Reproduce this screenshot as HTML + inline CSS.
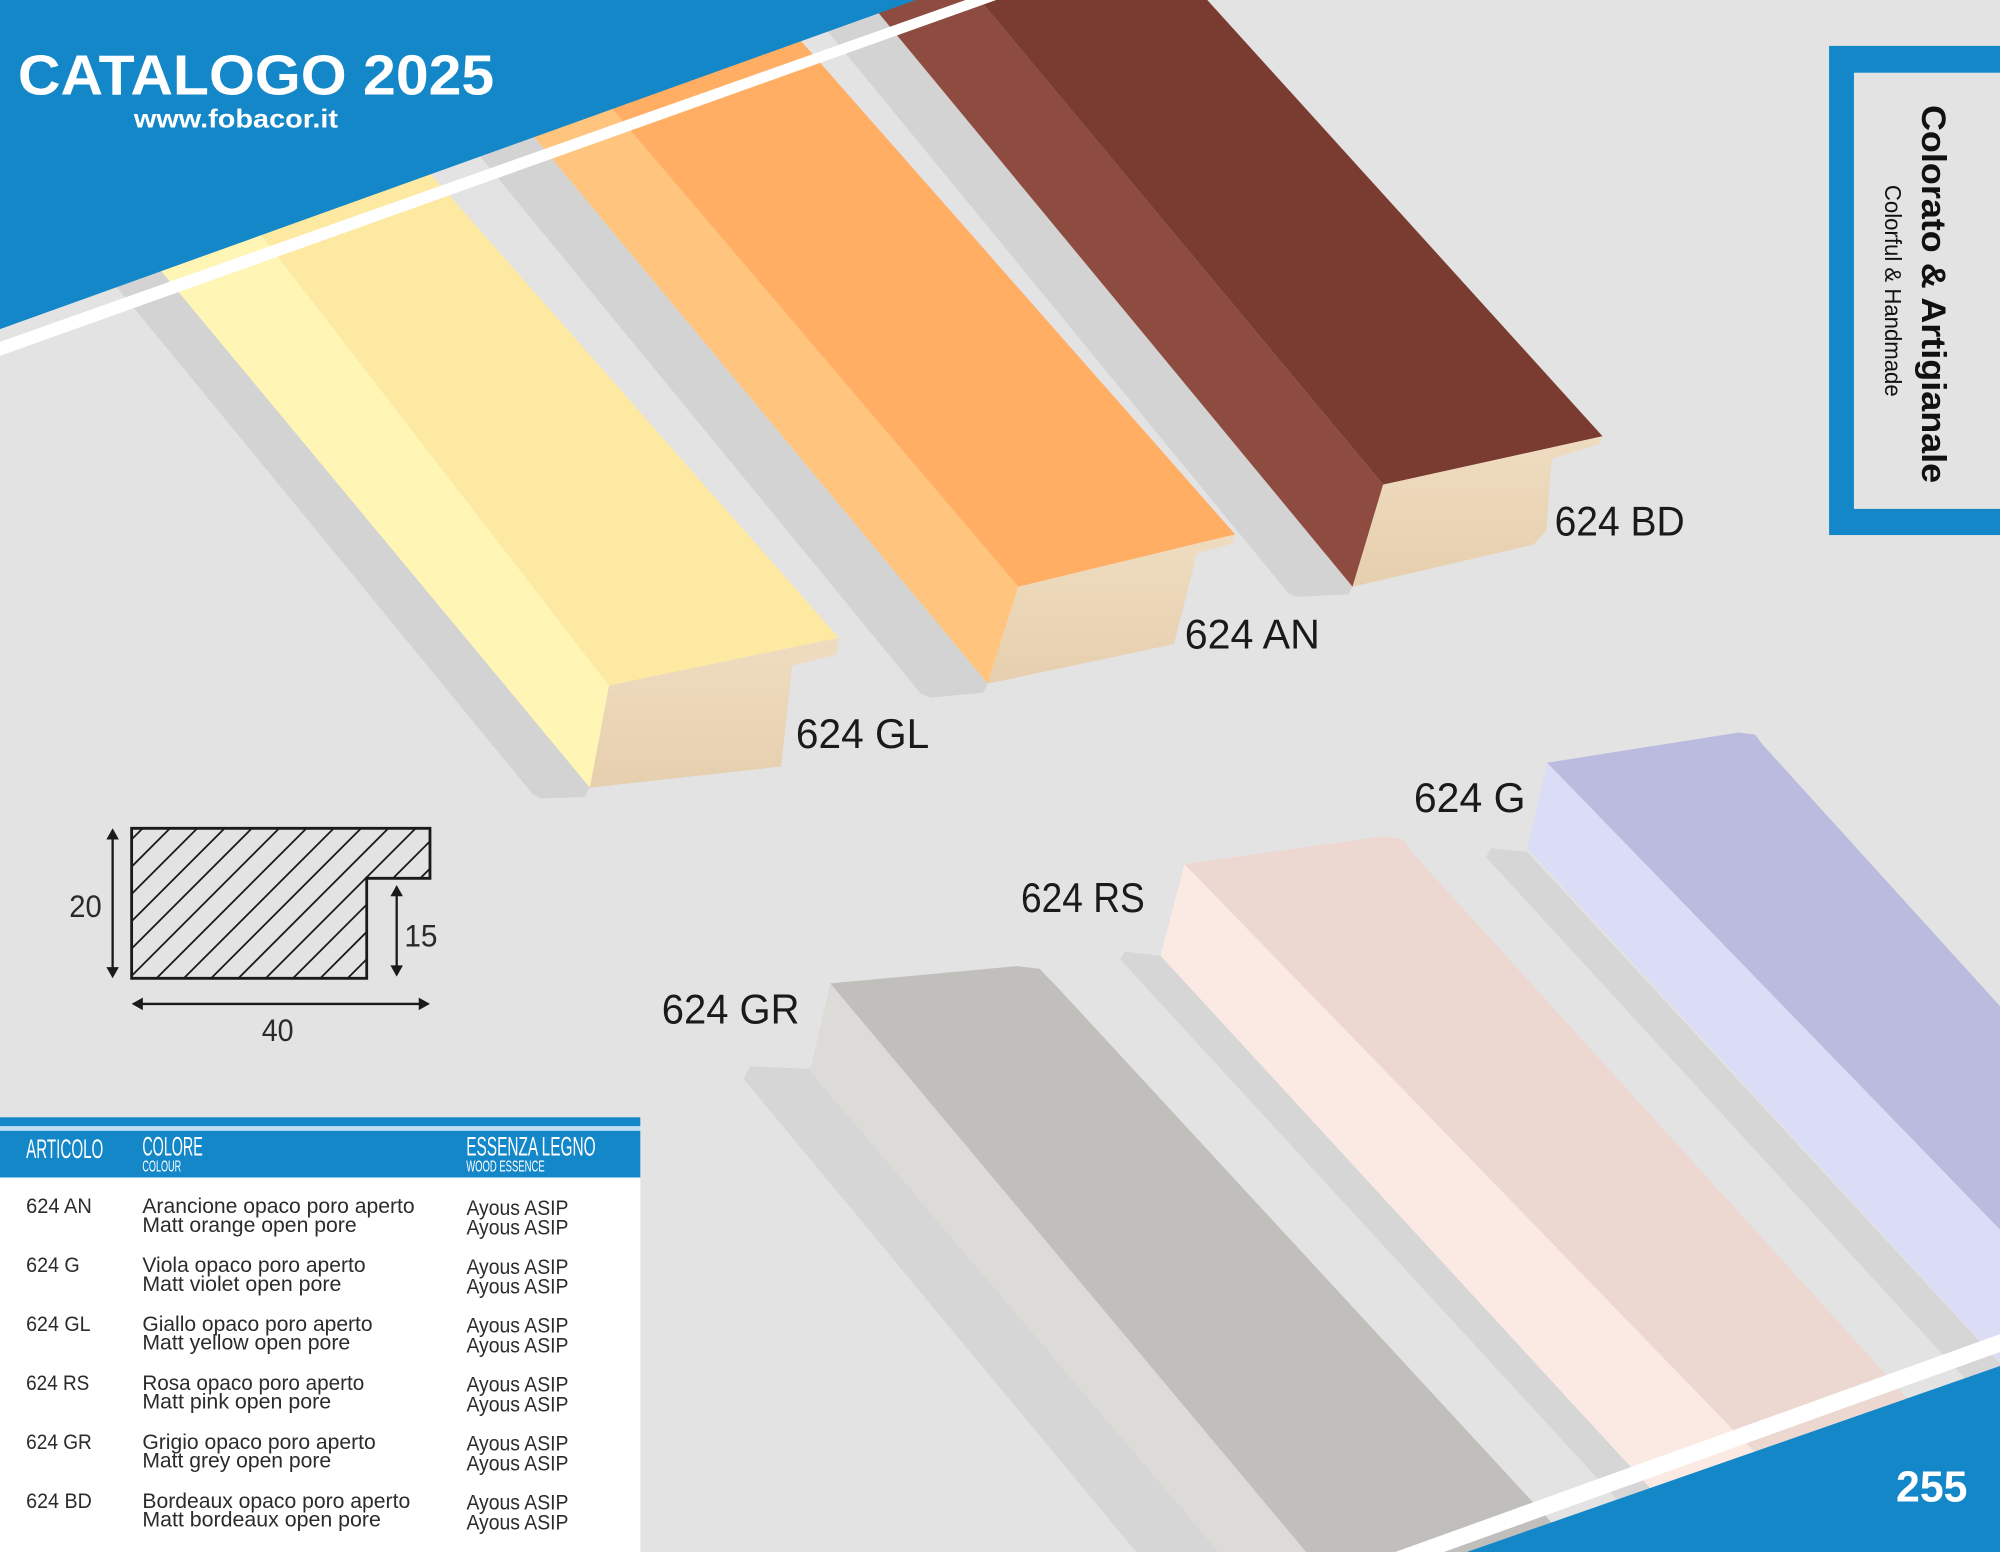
<!DOCTYPE html>
<html>
<head>
<meta charset="utf-8">
<style>
html,body{margin:0;padding:0;background:#e3e3e3;}
svg{display:block;}
</style>
</head>
<body>
<svg xmlns="http://www.w3.org/2000/svg" width="2000" height="1552" viewBox="0 0 1568 1216.8" preserveAspectRatio="none">
  <defs>
    <clipPath id="prof">
      <polygon points="103.2,649.4 337.1,649.4 337.1,688.6 287.5,688.6 287.5,767 103.2,767"/>
    </clipPath>
    <linearGradient id="wood" x1="0" y1="0" x2="0" y2="1">
      <stop offset="0" stop-color="#efdcc0"/>
      <stop offset="1" stop-color="#e6cfae"/>
    </linearGradient>
  </defs>

  <!-- background -->
  <rect x="0" y="0" width="1568" height="1216.8" fill="#e3e3e3"/>

  <!-- ===== Upper frames ===== -->
  <!-- GL (yellow) -->
  <polygon fill="#d3d3d3" points="-93,0 -50,0 462.5,617.5 458,625 424,626 417.5,622.5"/>
  <polygon fill="#fff5b5" points="-50,0 62.5,0 477.5,537.5 462.5,617.5"/>
  <polygon fill="#fde9a1" points="62.5,0 217.5,0 657.5,500 477.5,537.5"/>
  <polygon fill="url(#wood)" points="477.5,537.5 657.5,500 656,513 621,522 612.5,601 462.5,617.5"/>

  <!-- AN (orange) -->
  <polygon fill="#d3d3d3" points="276,0 329.5,0 774.4,536 771,543 730,547 722,544"/>
  <polygon fill="#ffc57e" points="329.5,0 407.4,0 798.4,460 774.4,536"/>
  <polygon fill="#ffae63" points="407.4,0 599.7,0 968.4,419 798.4,460"/>
  <polygon fill="url(#wood)" points="798.4,460 968.4,419 966.4,426 938.4,434 920.4,505 774.4,536"/>

  <!-- BD (bordeaux) -->
  <polygon fill="#d3d3d3" points="628.7,0 680.4,0 1060.4,460 1057,466 1016,468 1010,465"/>
  <polygon fill="#8e4b3f" points="680.4,0 768.2,0 1084.4,380 1060.4,460"/>
  <polygon fill="#7a3c31" points="768.2,0 946.5,0 1256.4,342 1084.4,380"/>
  <polygon fill="url(#wood)" points="1084.4,380 1256.4,342 1254.4,348 1216.4,360 1212.4,416 1202.4,427 1060.4,460"/>

  <!-- ===== Lower frames ===== -->
  <!-- GR (grey) -->
  <polygon fill="#d6d6d6" points="583,846 588,836 636,838 966.5,1230 901.7,1230"/>
  <polygon fill="#dddbd7" points="651,771 1035,1230 966.5,1230 635,840"/>
  <polygon fill="#c0bfbb" points="651,771 797,757.5 815,759.5 829,774 1250,1230 1035,1230"/>

  <!-- RS (pink) -->
  <polygon fill="#d6d6d6" points="878,752 882,746 910,749.4 1352,1230 1317.6,1230"/>
  <polygon fill="#fbeae4" points="928.6,677.4 1464.6,1230 1352,1230 909.9,749.3"/>
  <polygon fill="#ecd8d1" points="928.6,677.4 1084.9,655.6 1100,658 1106.8,668 1617,1230 1464.6,1230"/>

  <!-- G (violet) -->
  <polygon fill="#d6d6d6" points="1165,672 1169,665 1197.4,668 1717,1230 1677.5,1230"/>
  <polygon fill="#dbdcf5" points="1213,598 1826,1230 1717,1230 1197.4,665"/>
  <polygon fill="#babbdf" points="1213,598 1363,574.3 1376,576 1381.8,583.7 1968.6,1230 1826,1230"/>

  <!-- ===== Frame labels ===== -->
  <g font-family="'Liberation Sans', sans-serif" font-size="33" fill="#1a1a1a">
    <text x="1218.8" y="420" textLength="102" lengthAdjust="spacingAndGlyphs">624 BD</text>
    <text x="928.8" y="508.5" textLength="106" lengthAdjust="spacingAndGlyphs">624 AN</text>
    <text x="624" y="586.5" textLength="104.5" lengthAdjust="spacingAndGlyphs">624 GL</text>
    <text x="1108.5" y="636.5" textLength="87.5" lengthAdjust="spacingAndGlyphs">624 G</text>
    <text x="800.5" y="715" textLength="97" lengthAdjust="spacingAndGlyphs">624 RS</text>
    <text x="518.8" y="802.5" textLength="108" lengthAdjust="spacingAndGlyphs">624 GR</text>
  </g>

  <!-- ===== Top-left blue corner and stripe ===== -->
  <polygon fill="#1487c8" points="0,0 718,0 0,258"/>
  <polygon fill="#ffffff" points="0,268 757,0 781,0 0,279"/>
  <text x="14" y="74" font-family="'Liberation Sans', sans-serif" font-weight="bold" font-size="44" fill="#ffffff" textLength="373.5" lengthAdjust="spacingAndGlyphs">CATALOGO 2025</text>
  <text x="105" y="100" font-family="'Liberation Sans', sans-serif" font-weight="bold" font-size="20.5" fill="#ffffff" textLength="160" lengthAdjust="spacingAndGlyphs">www.fobacor.it</text>

  <!-- ===== Bottom-right blue corner and stripe ===== -->
  <polygon fill="#ffffff" points="1094,1216.8 1568,1046 1568,1060 1132,1216.8"/>
  <polygon fill="#1487c8" points="1150,1216.8 1568,1071 1568,1216.8"/>
  <text x="1486.5" y="1177.3" font-family="'Liberation Sans Narrow', 'Liberation Sans', sans-serif" font-weight="bold" font-size="34" fill="#ffffff" textLength="56" lengthAdjust="spacingAndGlyphs">255</text>

  <!-- ===== Right box ===== -->
  <rect x="1434" y="36" width="134" height="383.5" fill="#1487c8"/>
  <rect x="1453.5" y="57" width="114.5" height="342" fill="#e3e3e3"/>
  <text x="1507" y="82.3" transform="rotate(90 1507 82.3)" font-family="'Liberation Sans Narrow', 'Liberation Sans', sans-serif" font-weight="bold" font-size="27" fill="#111111" textLength="296.5" lengthAdjust="spacingAndGlyphs">Colorato &amp; Artigianale</text>
  <text x="1478" y="145" transform="rotate(90 1478 145)" font-family="'Liberation Sans Narrow', 'Liberation Sans', sans-serif" font-size="18" fill="#111111" textLength="166" lengthAdjust="spacingAndGlyphs">Colorful &amp; Handmade</text>

  <!-- ===== Profile diagram ===== -->
  <g clip-path="url(#prof)" stroke="#1a1a1a" stroke-width="1.4">
    <line x1="-18.7" y1="780" x2="121.3" y2="640"/>
    <line x1="2.7" y1="780" x2="142.7" y2="640"/>
    <line x1="24.1" y1="780" x2="164.1" y2="640"/>
    <line x1="45.5" y1="780" x2="185.5" y2="640"/>
    <line x1="66.9" y1="780" x2="206.9" y2="640"/>
    <line x1="88.3" y1="780" x2="228.3" y2="640"/>
    <line x1="109.7" y1="780" x2="249.7" y2="640"/>
    <line x1="131.1" y1="780" x2="271.1" y2="640"/>
    <line x1="152.5" y1="780" x2="292.5" y2="640"/>
    <line x1="173.9" y1="780" x2="313.9" y2="640"/>
    <line x1="195.3" y1="780" x2="335.3" y2="640"/>
    <line x1="216.7" y1="780" x2="356.7" y2="640"/>
    <line x1="238.1" y1="780" x2="378.1" y2="640"/>
    <line x1="259.5" y1="780" x2="399.5" y2="640"/>
    <line x1="280.9" y1="780" x2="420.9" y2="640"/>
  </g>
  <polygon points="103.2,649.4 337.1,649.4 337.1,688.6 287.5,688.6 287.5,767 103.2,767" fill="none" stroke="#1a1a1a" stroke-width="2.2"/>
  <!-- arrows -->
  <g stroke="#1a1a1a" stroke-width="1.8" fill="none">
    <line x1="88.3" y1="656" x2="88.3" y2="760"/>
    <line x1="311" y1="700" x2="311" y2="759"/>
    <line x1="110" y1="787.1" x2="330" y2="787.1"/>
  </g>
  <g fill="#1a1a1a">
    <polygon points="88.3,649.4 83.4,658.2 93.2,658.2"/>
    <polygon points="88.3,767 83.4,758.2 93.2,758.2"/>
    <polygon points="311,693.9 306.1,702.7 315.9,702.7"/>
    <polygon points="311,765.7 306.1,756.9 315.9,756.9"/>
    <polygon points="103.2,787.1 112,782.2 112,792"/>
    <polygon points="337.1,787.1 328.3,782.2 328.3,792"/>
  </g>
  <g font-family="'Liberation Sans', sans-serif" font-size="25" fill="#2a2a2a">
    <text x="54.3" y="719" textLength="25.4" lengthAdjust="spacingAndGlyphs">20</text>
    <text x="317" y="742" textLength="26" lengthAdjust="spacingAndGlyphs">15</text>
    <text x="205.2" y="816" textLength="25" lengthAdjust="spacingAndGlyphs">40</text>
  </g>

  <!-- ===== Table ===== -->
  <rect x="0" y="876" width="502" height="7" fill="#1487c8"/>
  <rect x="0" y="883" width="502" height="3.6" fill="#bfe0f4"/>
  <rect x="0" y="886.6" width="502" height="36.6" fill="#1487c8"/>
  <rect x="0" y="923.2" width="502" height="293.6" fill="#ffffff"/>

  <g font-family="'Liberation Sans Narrow', 'Liberation Sans', sans-serif" fill="#ffffff">
    <text x="20.5" y="907.8" font-size="21" textLength="60.5" lengthAdjust="spacingAndGlyphs">ARTICOLO</text>
    <text x="111.6" y="906" font-size="21" textLength="47.4" lengthAdjust="spacingAndGlyphs">COLORE</text>
    <text x="365.5" y="906" font-size="21" textLength="101.5" lengthAdjust="spacingAndGlyphs">ESSENZA LEGNO</text>
    <text x="111.6" y="918.6" font-size="12" textLength="30.4" lengthAdjust="spacingAndGlyphs">COLOUR</text>
    <text x="365.5" y="918.6" font-size="12" textLength="61.5" lengthAdjust="spacingAndGlyphs">WOOD ESSENCE</text>
  </g>

  <g font-family="'Liberation Sans', sans-serif" font-size="16.3" fill="#2b2b2b">
    <!-- row 1 -->
    <text x="20.5" y="951.2" textLength="51.5" lengthAdjust="spacingAndGlyphs">624 AN</text>
    <text x="111.6" y="951.2" textLength="213.5" lengthAdjust="spacingAndGlyphs">Arancione opaco poro aperto</text>
    <text x="111.6" y="965.8" textLength="168" lengthAdjust="spacingAndGlyphs">Matt orange open pore</text>
    <text x="365.7" y="952.5" textLength="80" lengthAdjust="spacingAndGlyphs">Ayous ASIP</text>
    <text x="365.7" y="968" textLength="80" lengthAdjust="spacingAndGlyphs">Ayous ASIP</text>
    <!-- row 2 -->
    <text x="20.5" y="997.4" textLength="42" lengthAdjust="spacingAndGlyphs">624 G</text>
    <text x="111.6" y="997.4" textLength="175" lengthAdjust="spacingAndGlyphs">Viola opaco poro aperto</text>
    <text x="111.6" y="1012" textLength="156" lengthAdjust="spacingAndGlyphs">Matt violet open pore</text>
    <text x="365.7" y="998.7" textLength="80" lengthAdjust="spacingAndGlyphs">Ayous ASIP</text>
    <text x="365.7" y="1014.2" textLength="80" lengthAdjust="spacingAndGlyphs">Ayous ASIP</text>
    <!-- row 3 -->
    <text x="20.5" y="1043.6" textLength="50.5" lengthAdjust="spacingAndGlyphs">624 GL</text>
    <text x="111.6" y="1043.6" textLength="180.5" lengthAdjust="spacingAndGlyphs">Giallo opaco poro aperto</text>
    <text x="111.6" y="1058.2" textLength="163" lengthAdjust="spacingAndGlyphs">Matt yellow open pore</text>
    <text x="365.7" y="1044.9" textLength="80" lengthAdjust="spacingAndGlyphs">Ayous ASIP</text>
    <text x="365.7" y="1060.4" textLength="80" lengthAdjust="spacingAndGlyphs">Ayous ASIP</text>
    <!-- row 4 -->
    <text x="20.5" y="1089.8" textLength="49.5" lengthAdjust="spacingAndGlyphs">624 RS</text>
    <text x="111.6" y="1089.8" textLength="174" lengthAdjust="spacingAndGlyphs">Rosa opaco poro aperto</text>
    <text x="111.6" y="1104.4" textLength="148" lengthAdjust="spacingAndGlyphs">Matt pink open pore</text>
    <text x="365.7" y="1091.1" textLength="80" lengthAdjust="spacingAndGlyphs">Ayous ASIP</text>
    <text x="365.7" y="1106.6" textLength="80" lengthAdjust="spacingAndGlyphs">Ayous ASIP</text>
    <!-- row 5 -->
    <text x="20.5" y="1136" textLength="51.5" lengthAdjust="spacingAndGlyphs">624 GR</text>
    <text x="111.6" y="1136" textLength="183" lengthAdjust="spacingAndGlyphs">Grigio opaco poro aperto</text>
    <text x="111.6" y="1150.6" textLength="148" lengthAdjust="spacingAndGlyphs">Matt grey open pore</text>
    <text x="365.7" y="1137.3" textLength="80" lengthAdjust="spacingAndGlyphs">Ayous ASIP</text>
    <text x="365.7" y="1152.8" textLength="80" lengthAdjust="spacingAndGlyphs">Ayous ASIP</text>
    <!-- row 6 -->
    <text x="20.5" y="1182.2" textLength="51.5" lengthAdjust="spacingAndGlyphs">624 BD</text>
    <text x="111.6" y="1182.2" textLength="210" lengthAdjust="spacingAndGlyphs">Bordeaux opaco poro aperto</text>
    <text x="111.6" y="1196.8" textLength="187" lengthAdjust="spacingAndGlyphs">Matt bordeaux open pore</text>
    <text x="365.7" y="1183.5" textLength="80" lengthAdjust="spacingAndGlyphs">Ayous ASIP</text>
    <text x="365.7" y="1199" textLength="80" lengthAdjust="spacingAndGlyphs">Ayous ASIP</text>
  </g>
</svg>
</body>
</html>
